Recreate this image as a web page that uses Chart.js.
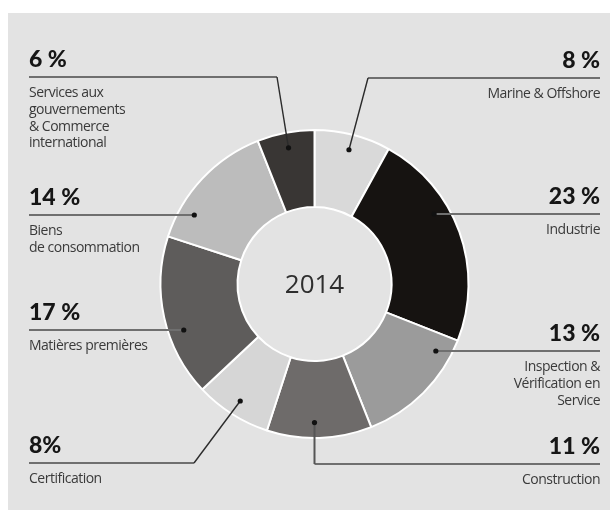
<!DOCTYPE html>
<html>
<head>
<meta charset="utf-8">
<script src="https://cdn.jsdelivr.net/npm/chart.js@4"></script>
<style>
  body { margin: 0; background: #fff; }
  .panel { position: absolute; left: 8px; top: 13px; width: 602px; height: 497px; background: #e3e3e3; }
  .wrap { position: absolute; left: 0; top: 0; width: 610px; height: 511px; }
</style>
</head>
<body>
<div class="panel"></div>
<div class="wrap"><canvas id="myChart" width="610" height="511"></canvas></div>
<script>

// data, clockwise from the top
const categories = [
  ['Marine & Offshore'],
  ['Industrie'],
  ['Inspection &', 'Vérification en', 'Service'],
  ['Construction'],
  ['Certification'],
  ['Matières premières'],
  ['Biens', 'de consommation'],
  ['Services aux', 'gouvernements', '& Commerce', 'international']
];
const values = [8, 23, 13, 11, 8, 17, 14, 6];
const valueLabels = ['8 %', '23 %', '13 %', '11 %', '8%', '17 %', '14 %', '6 %'];
const yearLabel = '2014';

const colors = ['#d9d9d9', '#161311', '#9b9b9b', '#6e6b6a', '#d6d6d6', '#5e5c5b', '#bcbcbc', '#393634'];

// where each callout sits (side, y of the rule, how it reaches the slice)
const callouts = [
  { side: 'right', y: 78, mode: 'elbow', elbowX: 368 },
  { side: 'right', y: 214, mode: 'row' },
  { side: 'right', y: 351, mode: 'row' },
  { side: 'right', y: 464, mode: 'drop' },
  { side: 'left', y: 463, mode: 'elbow', elbowX: 194 },
  { side: 'left', y: 330, mode: 'row' },
  { side: 'left', y: 215, mode: 'row' },
  { side: 'left', y: 77, mode: 'elbow', elbowX: 277 }
];
const leftX = 29;
const rightX = 600;

const calloutPlugin = {
  id: 'callouts',
  afterDraw(chart) {
    const ctx = chart.ctx;
    const arcs = chart.getDatasetMeta(0).data;
    ctx.save();

    // year in the hole
    const c = arcs[0];
    ctx.fillStyle = '#2e2e2e';
    ctx.font = '26px "Open Sans", sans-serif';
    ctx.textAlign = 'center';
    ctx.textBaseline = 'middle';
    ctx.fillText(yearLabel, c.x, c.y + 2);

    arcs.forEach((arc, i) => {
      const co = callouts[i];
      const r = arc.innerRadius + 0.8 * (arc.outerRadius - arc.innerRadius);
      let dot, lineStart;
      if (co.mode === 'row') {
        const dy = co.y - arc.y;
        const dx = Math.sqrt(r * r - dy * dy);
        dot = { x: co.side === 'left' ? arc.x - dx : arc.x + dx, y: co.y };
        lineStart = dot.x;
      } else if (co.mode === 'drop') {
        dot = { x: arc.x, y: arc.y + r };
        lineStart = dot.x;
      } else {
        const mid = (arc.startAngle + arc.endAngle) / 2;
        dot = { x: arc.x + Math.cos(mid) * r, y: arc.y + Math.sin(mid) * r };
        lineStart = co.elbowX;
      }
      const edge = co.side === 'left' ? leftX : rightX;

      // horizontal rule
      ctx.strokeStyle = '#6f6f6f';
      ctx.lineWidth = 2;
      ctx.beginPath();
      ctx.moveTo(edge, co.y);
      ctx.lineTo(lineStart, co.y);
      ctx.stroke();

      // connector to the dot
      if (co.mode !== 'row') {
        ctx.strokeStyle = co.mode === 'drop' ? '#555' : '#2b2b2b';
        ctx.lineWidth = co.mode === 'drop' ? 2 : 1.4;
        ctx.beginPath();
        ctx.moveTo(lineStart, co.y);
        ctx.lineTo(dot.x, dot.y);
        ctx.stroke();
      }

      ctx.fillStyle = '#111';
      ctx.beginPath();
      ctx.arc(dot.x, dot.y, 2.6, 0, Math.PI * 2);
      ctx.fill();

      // texts
      ctx.textAlign = co.side === 'left' ? 'left' : 'right';
      ctx.textBaseline = 'alphabetic';
      ctx.fillStyle = '#161616';
      ctx.font = '900 23px Lato, "Open Sans", sans-serif';
      ctx.fillText(valueLabels[i], edge, co.y - 10);

      ctx.fillStyle = '#3a3a3a';
      ctx.font = '14px "Open Sans", sans-serif';
      ctx.letterSpacing = '-0.5px';
      ctx.textBaseline = 'middle';
      categories[i].forEach((line, k) => {
        ctx.fillText(line, edge, co.y + 16 + k * 16.8);
      });
      ctx.letterSpacing = '0px';
    });
    ctx.restore();
  }
};

const data = {
  labels: categories.map(c => c.join(' ')),
  datasets: [{
    data: values,
    backgroundColor: colors,
    borderColor: '#ffffff',
    borderWidth: 2
  }]
};

const config = {
  type: 'doughnut',
  data: data,
  options: {
    responsive: false,
    animation: false,
    cutout: '50%',
    layout: {
      padding: { left: 159, right: 140, top: 129, bottom: 72 }
    },
    plugins: {
      legend: { display: false },
      tooltip: { enabled: false }
    }
  },
  plugins: [calloutPlugin]
};

let myChart = new Chart(document.getElementById('myChart'), config);
</script>
</body>
</html>
